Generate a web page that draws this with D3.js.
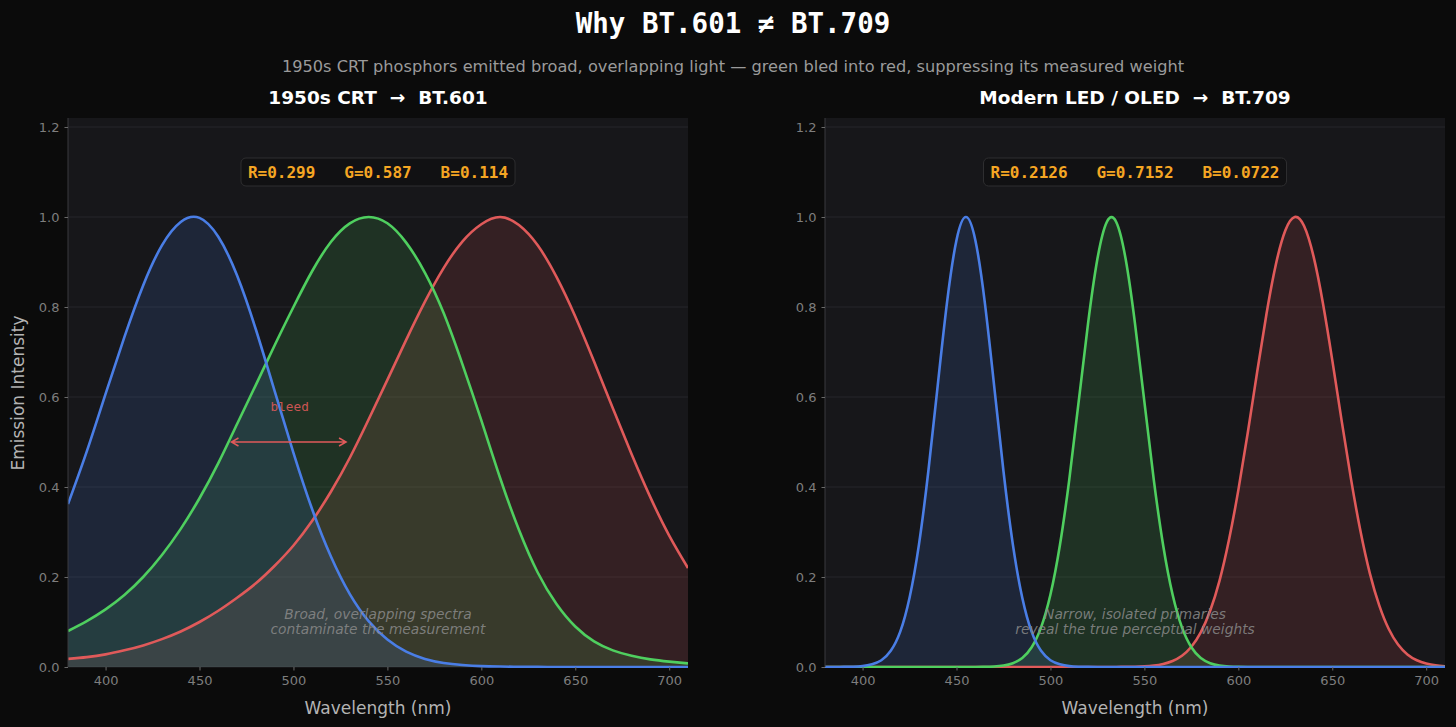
<!DOCTYPE html>
<html>
<head>
<meta charset="utf-8">
<script src="https://cdn.jsdelivr.net/npm/d3@7"></script>
<style>
  body { margin: 0; background: #0b0b0b; }
  svg { display: block; }
</style>
</head>
<body>
<div id="chart"></div>
<script>
// wavelengths (nm), every 10 nm
let crt_wl = [380, 390, 400, 410, 420, 430, 440, 450, 460, 470, 480, 490, 500, 510, 520, 530, 540,
  550, 560, 570, 580, 590, 600, 610, 620, 630, 640, 650, 660, 670, 680, 690, 700, 710];
let crt_red = [0.018, 0.022, 0.028, 0.037, 0.048, 0.062, 0.079, 0.100, 0.125, 0.154, 0.186, 0.225, 0.270,
  0.325, 0.390, 0.465, 0.550, 0.638, 0.727, 0.812, 0.887, 0.946, 0.984, 1.0, 0.982, 0.937, 0.867, 0.779,
  0.679, 0.575, 0.473, 0.377, 0.292, 0.220];
let crt_green = [0.080, 0.102, 0.128, 0.160, 0.200, 0.249, 0.307, 0.375, 0.453, 0.540, 0.627, 0.715, 0.800,
  0.880, 0.945, 0.986, 1.0, 0.986, 0.943, 0.876, 0.786, 0.672, 0.548, 0.420, 0.305, 0.210, 0.140, 0.090,
  0.057, 0.037, 0.025, 0.017, 0.012, 0.008];
let crt_blue = [0.362, 0.479, 0.607, 0.733, 0.848, 0.937, 0.989, 0.998, 0.956, 0.870, 0.750, 0.613, 0.476,
  0.350, 0.245, 0.162, 0.102, 0.061, 0.034, 0.018, 0.009, 0.0045, 0.002, 0.001, 0.0004, 0.0002, 0, 0,
  0, 0, 0, 0, 0, 0];

// LED / OLED panel, every 5 nm (narrow peaks)
let led_wl = [380, 385, 390, 395, 400, 405, 410, 415, 420, 425, 430, 435, 440, 445, 450, 455, 460, 465,
  470, 475, 480, 485, 490, 495, 500, 505, 510, 515, 520, 525, 530, 535, 540, 545, 550, 555, 560, 565,
  570, 575, 580, 585, 590, 595, 600, 605, 610, 615, 620, 625, 630, 635, 640, 645, 650, 655, 660, 665,
  670, 675, 680, 685, 690, 695, 700, 705, 710];
let led_red = [0, 0, 0, 0, 0, 0, 0, 0, 0, 0, 0, 0, 0, 0, 0, 0, 0, 0,
  0, 0, 0, 0, 0, 0, 0, 0, 0, 0, 0, 0, 0, 0.0001, 0.0003, 0.0006, 0.0015, 0.0032, 0.0068, 0.0134,
  0.025, 0.045, 0.077, 0.125, 0.192, 0.282, 0.393, 0.520, 0.655, 0.785, 0.895, 0.970, 1.0, 0.980, 0.913, 0.809, 0.682, 0.547, 0.417, 0.302,
  0.208, 0.137, 0.085, 0.050, 0.028, 0.015, 0.0078, 0.0038, 0.0017];
let led_green = [0, 0, 0, 0, 0, 0, 0, 0, 0, 0, 0, 0, 0, 0, 0, 0, 0.0001, 0.0004,
  0.0012, 0.0033, 0.0085, 0.020, 0.044, 0.088, 0.161, 0.270, 0.416, 0.589, 0.763, 0.907, 0.989, 0.989, 0.907, 0.763, 0.589, 0.416, 0.270, 0.161,
  0.088, 0.044, 0.020, 0.0085, 0.0033, 0.0012, 0.0004, 0.0001, 0, 0, 0, 0, 0, 0, 0, 0, 0, 0, 0, 0,
  0, 0, 0, 0, 0, 0, 0, 0, 0];
let led_blue = [0, 0, 0.0002, 0.0006, 0.002, 0.006, 0.015, 0.036, 0.078, 0.154, 0.272, 0.435, 0.626, 0.812, 0.949, 1.0, 0.949, 0.812,
  0.626, 0.435, 0.272, 0.154, 0.078, 0.036, 0.015, 0.006, 0.002, 0.0006, 0.0002, 0, 0, 0, 0, 0, 0, 0, 0, 0,
  0, 0, 0, 0, 0, 0, 0, 0, 0, 0, 0, 0, 0, 0, 0, 0, 0, 0, 0, 0,
  0, 0, 0, 0, 0, 0, 0, 0, 0];

let x_ticks = [400, 450, 500, 550, 600, 650, 700];
let y_ticks = [0.0, 0.2, 0.4, 0.6, 0.8, 1.0, 1.2];
let crt_weights = "R=0.299   G=0.587   B=0.114";
let led_weights = "R=0.2126   G=0.7152   B=0.0722";
let crt_note = ["Broad, overlapping spectra", "contaminate the measurement"];
let led_note = ["Narrow, isolated primaries", "reveal the true perceptual weights"];

let chart_width = 1456;
let chart_height = 727;
let colors = { r: "#e05a5a", g: "#4fcf5f", b: "#4a7ee6" };
let mono = "'DejaVu Sans Mono', monospace";
let sans = "'DejaVu Sans', sans-serif";

let svg = d3
  .select("#chart")
  .append("svg")
  .attr("width", chart_width)
  .attr("height", chart_height);

svg.append("rect").attr("width", chart_width).attr("height", chart_height).attr("fill", "#0b0b0b");

// titles
svg.append("text")
  .attr("x", 733).attr("y", 23)
  .attr("text-anchor", "middle").attr("dominant-baseline", "central")
  .attr("font-family", mono).attr("font-weight", "bold").attr("font-size", 27.5)
  .attr("fill", "#ffffff")
  .text("Why BT.601 \u2260 BT.709");

svg.append("text")
  .attr("x", 733).attr("y", 66)
  .attr("text-anchor", "middle").attr("dominant-baseline", "central")
  .attr("font-family", sans).attr("font-size", 16.2)
  .attr("fill", "#9a9a9a")
  .text("1950s CRT phosphors emitted broad, overlapping light \u2014 green bled into red, suppressing its measured weight");

function panel(opts) {
  let left = opts.left, right = opts.right, top = 118, bottom = 667;
  let g = svg.append("g");

  let x_scale = d3.scaleLinear().domain([380, 710]).range([left, right]);
  let y_scale = d3.scaleLinear().domain([0, 1.22]).range([bottom, top]);

  g.append("rect")
    .attr("x", left).attr("y", top)
    .attr("width", right - left).attr("height", bottom - top)
    .attr("fill", "#17171a");

  let clip_id = "clip" + opts.id;
  svg.append("clipPath").attr("id", clip_id)
    .append("rect")
    .attr("x", left).attr("y", top - 2)
    .attr("width", right - left).attr("height", bottom - top + 3);

  // grid
  g.selectAll(".grid")
    .data(y_ticks)
    .enter()
    .append("line")
    .attr("x1", left).attr("x2", right)
    .attr("y1", d => y_scale(d)).attr("y2", d => y_scale(d))
    .attr("stroke", "#2c2c30").attr("stroke-width", 0.8);

  // panel title
  svg.append("text")
    .attr("x", (left + right) / 2).attr("y", 97)
    .attr("text-anchor", "middle").attr("dominant-baseline", "central")
    .attr("font-family", sans).attr("font-weight", "bold").attr("font-size", 18.5)
    .attr("fill", "#ffffff")
    .style("white-space", "pre")
    .text(opts.title);

  // curves: fill then line, R G B
  let plot = g.append("g").attr("clip-path", "url(#" + clip_id + ")");
  let series = [
    { vals: opts.red, col: colors.r },
    { vals: opts.green, col: colors.g },
    { vals: opts.blue, col: colors.b }
  ];
  let area = d3.area()
    .x((d, i) => x_scale(opts.wl[i]))
    .y0(y_scale(0))
    .y1(d => y_scale(d))
    .curve(d3.curveNatural);
  let line = d3.line()
    .x((d, i) => x_scale(opts.wl[i]))
    .y(d => y_scale(d))
    .curve(d3.curveNatural);

  series.forEach(function (s) {
    plot.append("path").datum(s.vals)
      .attr("d", area)
      .attr("fill", s.col).attr("fill-opacity", 0.15);
  });
  series.forEach(function (s) {
    plot.append("path").datum(s.vals)
      .attr("d", line)
      .attr("fill", "none")
      .attr("stroke", s.col).attr("stroke-width", 2.6);
  });

  // spine
  g.append("line")
    .attr("x1", left).attr("x2", left).attr("y1", top).attr("y2", bottom)
    .attr("stroke", "#3a3a3e").attr("stroke-width", 1);

  // axes
  let x_axis = d3.axisBottom(x_scale).tickValues(x_ticks).tickSize(3.5).tickPadding(5);
  let y_axis = d3.axisLeft(y_scale).tickValues(y_ticks).tickSize(3.5).tickPadding(5)
    .tickFormat(d3.format(".1f"));

  let gx = g.append("g").attr("transform", "translate(0," + bottom + ")").call(x_axis);
  let gy = g.append("g").attr("transform", "translate(" + left + ",0)").call(y_axis);
  [gx, gy].forEach(function (ax) {
    ax.select(".domain").remove();
    ax.selectAll(".tick line").attr("stroke", "#6a6a6a");
    ax.selectAll(".tick text")
      .attr("fill", "#7e7e7e")
      .attr("font-family", sans)
      .attr("font-size", 13);
  });

  svg.append("text")
    .attr("x", (left + right) / 2).attr("y", 708)
    .attr("text-anchor", "middle").attr("dominant-baseline", "central")
    .attr("font-family", sans).attr("font-size", 17)
    .attr("fill", "#b4b4b4")
    .text("Wavelength (nm)");

  // weights box
  let bx = (left + right) / 2, by = y_scale(1.1);
  let box = g.append("g");
  let txt = box.append("text")
    .attr("x", bx).attr("y", by)
    .attr("text-anchor", "middle").attr("dominant-baseline", "central")
    .attr("font-family", mono).attr("font-weight", "bold").attr("font-size", 16)
    .attr("fill", "#f5a623")
    .style("white-space", "pre")
    .text(opts.weights);
  let bb = txt.node().getBBox();
  box.insert("rect", "text")
    .attr("x", bb.x - 7).attr("y", by - 14)
    .attr("width", bb.width + 14).attr("height", 28)
    .attr("rx", 5)
    .attr("fill", "#111113").attr("stroke", "#2e2e30").attr("stroke-width", 1);

  // note text
  g.selectAll(".note")
    .data(opts.note)
    .enter()
    .append("text")
    .attr("x", bx)
    .attr("y", (d, i) => y_scale(0.1) - 8 + i * 15)
    .attr("text-anchor", "middle").attr("dominant-baseline", "central")
    .attr("font-family", sans).attr("font-style", "italic").attr("font-size", 13.8)
    .attr("fill", "#8a8a8a").attr("fill-opacity", 0.85)
    .text(d => d);

  return { g: g, x: x_scale, y: y_scale };
}

let crt = panel({
  id: "crt", left: 68, right: 688, title: "1950s CRT  \u2192  BT.601",
  wl: crt_wl, red: crt_red, green: crt_green, blue: crt_blue,
  weights: crt_weights, note: crt_note
});
let led = panel({
  id: "led", left: 825, right: 1445, title: "Modern LED / OLED  \u2192  BT.709",
  wl: led_wl, red: led_red, green: led_green, blue: led_blue,
  weights: led_weights, note: led_note
});

// bleed arrow (CRT panel)
let ax1 = crt.x(467), ax2 = crt.x(528), ay = crt.y(0.5);
crt.g.append("path")
  .attr("d", "M" + ax1 + "," + ay + "H" + ax2 +
    "M" + (ax1 + 7) + "," + (ay - 4) + "L" + ax1 + "," + ay + "L" + (ax1 + 7) + "," + (ay + 4) +
    "M" + (ax2 - 7) + "," + (ay - 4) + "L" + ax2 + "," + ay + "L" + (ax2 - 7) + "," + (ay + 4))
  .attr("fill", "none").attr("stroke", colors.r).attr("stroke-width", 1.5);
crt.g.append("text")
  .attr("x", crt.x(498)).attr("y", crt.y(0.58))
  .attr("text-anchor", "middle").attr("dominant-baseline", "central")
  .attr("font-family", mono).attr("font-size", 12.7)
  .attr("fill", colors.r).attr("fill-opacity", 0.9)
  .text("bleed");

// y label
svg.append("text")
  .attr("transform", "translate(18,393) rotate(-90)")
  .attr("text-anchor", "middle").attr("dominant-baseline", "central")
  .attr("font-family", sans).attr("font-size", 17)
  .attr("fill", "#b4b4b4")
  .text("Emission Intensity");
</script>
</body>
</html>
